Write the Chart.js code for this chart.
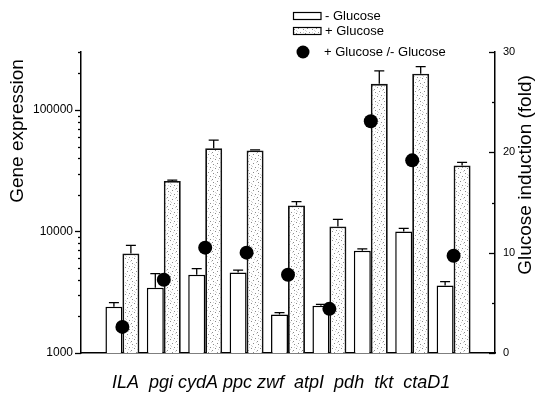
<!DOCTYPE html>
<html><head><meta charset="utf-8">
<script src="https://cdn.jsdelivr.net/npm/chart.js@4.4.1/dist/chart.umd.min.js"></script>
<style>html,body{margin:0;padding:0;background:#fff}#wrap{width:538px;height:394px}</style>
</head><body><div id="wrap"><canvas id="c" width="538" height="394"></canvas></div>
<script>
// ---- data ----
const categories = ['ILA', 'pgi', 'cydA', 'ppc', 'zwf', 'atpI', 'pdh', 'tkt', 'ctaD1'];
const minusGlucose = [2400, 3450, 4400, 4600, 2070, 2450, 6950, 10000, 3600];
const minusGlucoseErr = [200, 1050, 550, 200, 80, 60, 250, 600, 270];
const plusGlucose = [6600, 26000, 48500, 46500, 16400, 11000, 164000, 199000, 35000];
const plusGlucoseErr = [1100, 500, 8000, 500, 1200, 1600, 46000, 28000, 2000];
const foldInduction = [2.6, 7.3, 10.5, 10.0, 7.8, 4.4, 23.1, 19.2, 9.7];
const leftTicks = [1000, 10000, 100000];
const rightTicks = [0, 10, 20, 30];
const legendLabels = ['- Glucose', '+ Glucose', '+ Glucose /- Glucose'];
const leftTitle = 'Gene expression';
const rightTitle = 'Glucose induction (fold)';

const FONT = '"Liberation Sans", Arial, Helvetica, sans-serif';
const canvas = document.getElementById('c');
const ctx = canvas.getContext('2d');

function stippleCanvas() {
  const c = document.createElement('canvas');
  c.width = 9; c.height = 9;
  const g = c.getContext('2d');
  g.fillStyle = '#ffffff'; g.fillRect(0, 0, 9, 9);
  g.fillStyle = '#8c8c8c';
  [[1,1],[6,2],[3,5],[8,6],[5,8]].forEach(p => g.fillRect(p[0], p[1], 1, 1));
  g.fillStyle = '#d2d2d2';
  [[4,0],[8,3],[0,4],[6,5],[2,7]].forEach(p => g.fillRect(p[0], p[1], 1, 1));
  return c;
}
const stipple = ctx.createPattern(stippleCanvas(), 'repeat');
const pad = arr => [null, ...arr, null];
// the category names are set as one typed line under the axis: start x and spaces between words
const labelLineStart = 112;
const labelSpaces = [2, 1, 1, 1, 2, 2, 2, 2];

const decor = {
  id: 'decor',
  afterDatasetDraw(chart, args) {
    const ds = chart.data.datasets[args.index];
    if (!ds.err) return;
    const y = chart.scales.y;
    const g = chart.ctx;
    g.save();
    g.strokeStyle = '#000'; g.lineWidth = 1.3;
    args.meta.data.forEach((el, i) => {
      const v = ds.data[i], e = ds.err[i];
      if (v == null || e == null) return;
      const top = y.getPixelForValue(v), cap = y.getPixelForValue(v + e);
      g.beginPath();
      g.moveTo(el.x, top); g.lineTo(el.x, cap);
      g.moveTo(el.x - 5, cap); g.lineTo(el.x + 5, cap);
      g.stroke();
    });
    g.restore();
  },
  afterDraw(chart) {
    const g = chart.ctx, y = chart.scales.y, y2 = chart.scales.y2;
    const area = chart.chartArea;
    g.save();
    g.strokeStyle = '#000'; g.lineWidth = 1.3;
    // left log ticks
    leftTicks.forEach(d => {
      for (let k = 1; k <= 9; k++) {
        const v = k * d;
        if (v > y.max) break;
        const py = Math.round(y.getPixelForValue(v)) + 0.5;
        const len = k === 1 ? 6 : 3;
        g.beginPath(); g.moveTo(area.left - len, py); g.lineTo(area.left, py); g.stroke();
      }
    });
    // right ticks (inward)
    for (let v = y2.min; v <= y2.max; v += 5) {
      const py = Math.round(y2.getPixelForValue(v)) + 0.5;
      const len = v % 10 === 0 ? 6 : 3;
      g.beginPath(); g.moveTo(area.right - len, py); g.lineTo(area.right, py); g.stroke();
    }
    // axis titles
    g.fillStyle = '#000';
    g.font = '19px ' + FONT;
    g.textAlign = 'center'; g.textBaseline = 'middle';
    g.save(); g.translate(18, 131); g.rotate(-Math.PI / 2); g.fillText(leftTitle, 0, 0); g.restore();
    g.save(); g.translate(526, 175); g.rotate(-Math.PI / 2); g.fillText(rightTitle, 0, 0); g.restore();
    // category labels, one line
    g.font = 'italic 18px ' + FONT;
    g.textAlign = 'left'; g.textBaseline = 'alphabetic';
    const sp = g.measureText(' ').width;
    let cx = labelLineStart;
    categories.forEach((c, i) => {
      g.fillText(c, cx, 388);
      cx += g.measureText(c).width + (labelSpaces[i] || 0) * sp;
    });
    // legend
    g.font = '13px ' + FONT;
    g.textAlign = 'left'; g.textBaseline = 'middle';
    g.lineWidth = 1.2;
    g.fillStyle = '#fff'; g.fillRect(293, 12.5, 28, 7); g.strokeRect(293.5, 12.5, 27.5, 7);
    g.fillStyle = stipple; g.fillRect(293, 27.5, 28, 7); g.strokeRect(293.5, 27.5, 27.5, 7);
    g.fillStyle = '#000';
    g.beginPath(); g.arc(303, 52, 6.5, 0, Math.PI * 2); g.fill();
    g.fillText(legendLabels[0], 325, 16);
    g.fillText(legendLabels[1], 325, 31);
    g.fillText(legendLabels[2], 324, 52);
    g.restore();
  }
};

new Chart(ctx, {
  data: {
    labels: ['', ...categories, ''],
    datasets: [
      { type: 'line', label: legendLabels[2], data: pad(foldInduction), yAxisID: 'y2', showLine: false,
        pointRadius: 7, pointHoverRadius: 7, pointBackgroundColor: '#000', pointBorderColor: '#000', pointBorderWidth: 0, order: 0 },
      { type: 'bar', label: legendLabels[0], data: pad(minusGlucose), err: pad(minusGlucoseErr), yAxisID: 'y',
        backgroundColor: '#fff', borderColor: '#000', borderWidth: 1.5, categoryPercentage: 0.82, barPercentage: 1.0, order: 1 },
      { type: 'bar', label: legendLabels[1], data: pad(plusGlucose), err: pad(plusGlucoseErr), yAxisID: 'y',
        backgroundColor: stipple, borderColor: '#111', borderWidth: 1.8, categoryPercentage: 0.82, barPercentage: 1.0, order: 1 }
    ]
  },
  options: {
    responsive: false, animation: false, devicePixelRatio: 1,
    layout: { padding: { top: 52, left: 0, right: 0, bottom: 0 } },
    plugins: { legend: { display: false }, tooltip: { enabled: false } },
    scales: {
      x: { type: 'category', offset: false, grid: { display: false },
           border: { display: true, color: '#000', width: 1.5 },
           ticks: { display: false }, afterFit: s => { s.height = 41; } },
      y: { type: 'logarithmic', position: 'left', min: 1000, max: 300000,
           grid: { display: false, drawTicks: false }, border: { display: true, color: '#000', width: 1.5 },
           afterBuildTicks: s => { s.ticks = leftTicks.map(v => ({ value: v })); },
           ticks: { autoSkip: false, color: '#000', font: { family: FONT, size: 12 }, padding: 8,
                    callback: v => String(v) },
           afterFit: s => { s.width = 81; } },
      y2: { type: 'linear', position: 'right', min: 0, max: 30,
            grid: { display: false, drawTicks: false }, border: { display: true, color: '#000', width: 1.5 },
            afterBuildTicks: s => { s.ticks = rightTicks.map(v => ({ value: v })); },
            ticks: { autoSkip: false, color: '#000', font: { family: FONT, size: 11 }, padding: 8,
                     callback: v => String(v) },
            afterFit: s => { s.width = 43; } }
    }
  },
  plugins: [decor]
});
</script></body></html>
